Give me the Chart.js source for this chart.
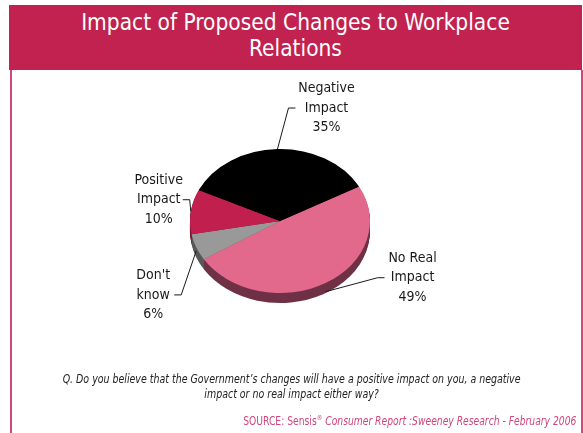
<!DOCTYPE html>
<html>
<head>
<meta charset="utf-8">
<script src="https://cdn.jsdelivr.net/npm/chart.js@4"></script>
<style>
  body {
    margin: 0;
    width: 583px;
    height: 433px;
    overflow: hidden;
    background: #fff;
    position: relative;
    font-family: "DejaVu Sans Condensed", "DejaVu Sans", sans-serif;
  }
  #cabecera {
    position: absolute;
    left: 9px;
    top: 5px;
    width: 573px;
    height: 65px;
    background: #c1224f;
    color: #fff;
    font-size: 22.5px;
    line-height: 26px;
    text-align: center;
    padding-top: 4px;
    box-sizing: border-box;
  }
  #marco {
    position: absolute;
    left: 10px;
    top: 70px;
    width: 573px;
    height: 380px;
    border-left: 2px solid #d2457e;
    border-right: 2px solid #d2457e;
    box-sizing: border-box;
  }
  #zona {
    position: absolute;
    left: 0;
    top: 0;
    width: 583px;
    height: 433px;
  }
  #pregunta {
    position: absolute;
    left: 0;
    top: 371px;
    width: 583px;
    text-align: center;
    font-style: italic;
    font-size: 12.5px;
    line-height: 15px;
    color: #222;
    transform: scaleX(0.84);
    transform-origin: 292px 0;
  }
  #fuente {
    position: absolute;
    right: 7px;
    top: 414px;
    font-size: 11.5px;
    color: #d0457a;
    white-space: nowrap;
    transform: scaleX(0.89);
    transform-origin: right top;
  }
  #fuente sup { font-size: 7px; }
</style>
</head>
<body>
<div id="cabecera">Impact of Proposed Changes to Workplace<br>Relations</div>
<div id="marco"></div>
<div id="zona"><canvas id="pastel"></canvas></div>
<div id="pregunta">Q. Do you believe that the Government’s changes will have a positive impact on you, a negative<br>impact or no real impact either way?</div>
<div id="fuente">SOURCE: Sensis<sup>®</sup> <i>Consumer Report :Sweeney Research - February 2006</i></div>

<script>
// categorias (una linea por renglon de la etiqueta) y porcentajes
const categorias = [['No Real', 'Impact'], ["Don't", 'know'], ['Positive', 'Impact'], ['Negative', 'Impact']];
const porcentajes = [49, 6, 10, 35];

const colores = ['#e2698c', '#999999', '#c1204f', '#000000'];
const coloresLado = ['#6f3146', '#585858', '#7a1633', '#000000'];

// donde va cada etiqueta respecto al borde de su porcion
const colocacion = [
    { dx: 87, dy: -14, codo: 52 },
    { dx: -43, dy: 44, codo: -15 },
    { dx: -32, dy: -12, codo: -1 },
    { dx: 49, dy: -41, codo: 11 }
];

const ALTO = 0.8;   // aplastado vertical del pastel
const PROF = 10;    // grosor del canto

const pastel3d = {
    id: 'pastel3d',
    beforeDatasetsDraw(chart) {
        const ctx = chart.ctx;
        const arcos = chart.getDatasetMeta(0).data;
        const cx = arcos[0].x, cy = arcos[0].y;
        ctx.save();
        ctx.translate(cx, cy);
        ctx.scale(1, ALTO);
        ctx.translate(-cx, -cy);

        // canto del pastel, capa a capa desde abajo
        for (let d = PROF; d > 0; d--) {
            arcos.forEach((a, i) => {
                const yy = a.y + d / ALTO;
                ctx.beginPath();
                ctx.moveTo(a.x, yy);
                ctx.arc(a.x, yy, a.outerRadius, a.startAngle, a.endAngle);
                ctx.closePath();
                ctx.fillStyle = coloresLado[i];
                ctx.fill();
            });
        }
    },
    afterDatasetsDraw(chart) {
        chart.ctx.restore();
    },
    afterDraw(chart) {
        const ctx = chart.ctx;
        const arcos = chart.getDatasetMeta(0).data;
        ctx.save();
        ctx.strokeStyle = '#1a1a1a';
        ctx.lineWidth = 1;
        ctx.fillStyle = '#1a1a1a';
        ctx.font = '14px "DejaVu Sans Condensed", "DejaVu Sans", sans-serif';
        ctx.textAlign = 'center';
        ctx.textBaseline = 'middle';

        arcos.forEach((a, i) => {
            const medio = (a.startAngle + a.endAngle) / 2;
            const s = Math.sin(medio);
            const ax = a.x + a.outerRadius * Math.cos(medio);
            const ay = a.y + a.outerRadius * ALTO * s + PROF * Math.max(0, s);
            const c = colocacion[i];
            const ty = ay + c.dy;
            const ex = ax + c.codo;
            const lado = Math.sign(c.dx - c.codo);

            ctx.beginPath();
            ctx.moveTo(ax, ay);
            ctx.lineTo(ex, ty);
            ctx.lineTo(ex + 7 * lado, ty);
            ctx.stroke();

            const lineas = categorias[i].concat([porcentajes[i] + '%']);
            lineas.forEach((t, k) => {
                ctx.fillText(t, ax + c.dx, ty + (k - 1) * 19.5);
            });
        });
        ctx.restore();
    }
};

const ctx = document.getElementById('pastel').getContext('2d');
const grafico = new Chart(ctx, {
    type: 'pie',
    data: {
        labels: categorias,
        datasets: [{
            data: porcentajes,
            backgroundColor: colores,
            borderWidth: 0,
            clip: false
        }]
    },
    options: {
        responsive: true,
        maintainAspectRatio: false,
        animation: false,
        events: [],
        rotation: 61.4,
        layout: {
            padding: { left: 190, right: 213, top: 131, bottom: 122 }
        },
        plugins: {
            legend: { display: false },
            tooltip: { enabled: false },
            title: { display: false }
        }
    },
    plugins: [pastel3d]
});
</script>
</body>
</html>
